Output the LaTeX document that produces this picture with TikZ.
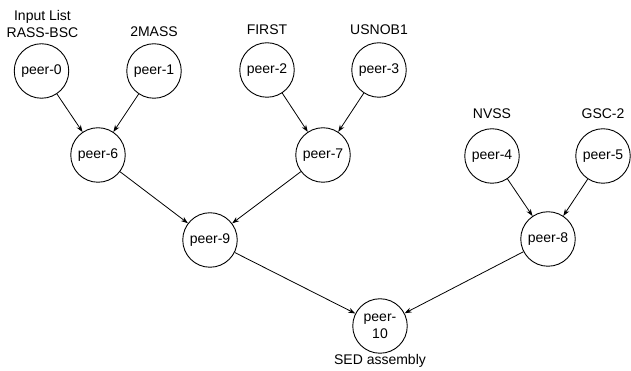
\documentclass[tikz,border=0pt]{standalone}
\usepackage{fontspec}
\setmainfont{Liberation Sans}
\usetikzlibrary{arrows.meta}
\begin{document}
\begin{tikzpicture}[x=1pt,y=1pt,
  peer/.style={circle,draw,line width=0.9pt,minimum size=54.5pt,inner sep=0pt,font=\fontsize{14}{17}\selectfont,align=center},
  lbl/.style={font=\fontsize{14}{17}\selectfont,inner sep=0pt,align=center},
  conn/.style={line width=0.8pt,-{Stealth[length=7pt,width=5pt]}}]
\useasboundingbox (0,0) rectangle (631,371);
\node[peer] (p0) at (41.5,300) {peer-0};
\node[peer] (p1) at (154,300) {peer-1};
\node[peer] (p2) at (267,301) {peer-2};
\node[peer] (p3) at (379,301) {peer-3};
\node[peer] (p6) at (98,216) {peer-6};
\node[peer] (p7) at (323,216) {peer-7};
\node[peer] (p9) at (210,131) {peer-9};
\node[peer] (p4) at (492,215) {peer-4};
\node[peer] (p5) at (603,215) {peer-5};
\node[peer] (p8) at (548,132) {peer-8};
\node[peer] (p10) at (380,45) {peer-\\10};
\node[lbl] (l0) at (42.5,347) {Input List\\RASS-BSC};
\node[lbl] (l1) at (154,339) {2MASS};
\node[lbl] (l2) at (267,341) {FIRST};
\node[lbl] (l3) at (379,341) {USNOB1};
\node[lbl] (l4) at (492,257) {NVSS};
\node[lbl] (l5) at (603,257) {GSC-2};
\node[lbl] (l10) at (380,10) {SED assembly};
\draw[conn] (p0) -- (p6);
\draw[conn] (p1) -- (p6);
\draw[conn] (p2) -- (p7);
\draw[conn] (p3) -- (p7);
\draw[conn] (p6) -- (p9);
\draw[conn] (p7) -- (p9);
\draw[conn] (p4) -- (p8);
\draw[conn] (p5) -- (p8);
\draw[conn] (p9) -- (p10);
\draw[conn] (p8) -- (p10);
\end{tikzpicture}
\end{document}
